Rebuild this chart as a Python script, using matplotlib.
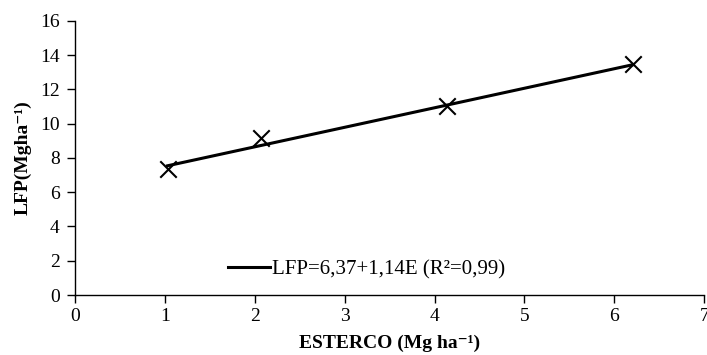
import matplotlib
matplotlib.use("Agg")
import matplotlib.pyplot as plt
import numpy as np

plt.rcParams['font.family'] = ['Liberation Serif', 'DejaVu Serif']

esterco = [1.03, 2.07, 4.14, 6.21]
lfp = [7.35, 9.15, 11.05, 13.5]
intercept = 6.37
slope = 1.14
legend_label = "LFP=6,37+1,14E (R²=0,99)"
xticks = [0, 1, 2, 3, 4, 5, 6, 7]
yticks = [0, 2, 4, 6, 8, 10, 12, 14, 16]

fig = plt.figure(figsize=(7.07, 3.55), dpi=100)
ax = fig.add_axes([0.106, 0.169, 0.890, 0.772])

ax.scatter(esterco, lfp, marker='x', s=140, color='black', linewidths=1.5, zorder=3)
xfit = np.array([min(esterco), max(esterco)])
ax.plot(xfit, intercept + slope * xfit, color='black', lw=2.2, label=legend_label)

ax.set_xlim(0, 7)
ax.set_ylim(0, 16)
ax.set_xticks(xticks)
ax.set_yticks(yticks)
for s in ['top', 'right']:
    ax.spines[s].set_visible(False)
for s in ['left', 'bottom']:
    ax.spines[s].set_linewidth(1.0)
ax.tick_params(axis='both', labelsize=14, length=6, width=1, direction='out')
ax.tick_params(axis='y', pad=5)
ax.tick_params(axis='x', pad=3)

ax.set_xlabel('ESTERCO (Mg ha⁻¹)', fontsize=14, fontweight='bold', labelpad=7)
ax.set_ylabel('LFP(Mgha⁻¹)', fontsize=14, fontweight='bold', labelpad=6)

ax.legend(loc='lower center', bbox_to_anchor=(0.464, -0.01), frameon=False, fontsize=15,
          handlelength=2.0, handletextpad=0.1)

fig.savefig('out.png', dpi=100)
